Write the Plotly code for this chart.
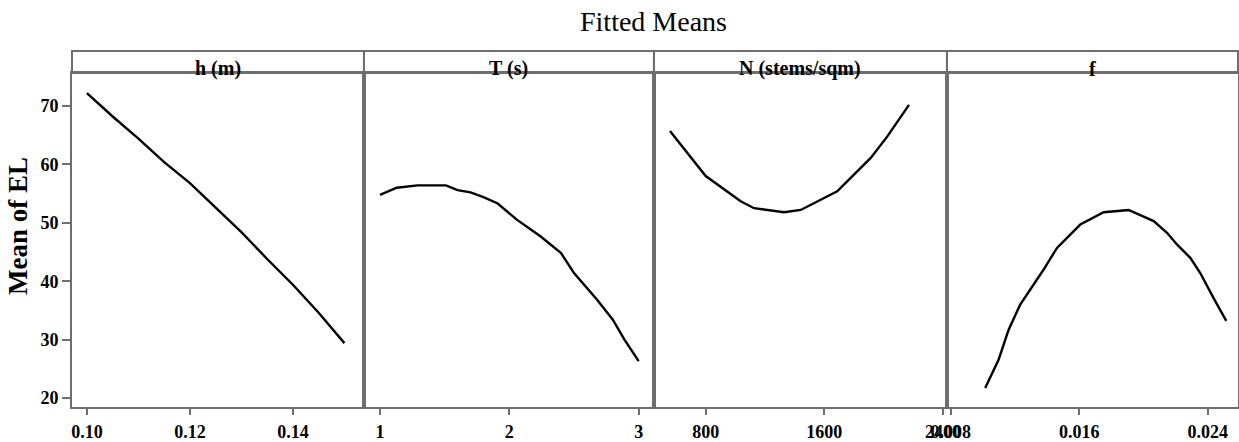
import plotly.graph_objects as go
from plotly.subplots import make_subplots

# ---- data ----
h_vals = [0.100, 0.105, 0.110, 0.115, 0.120, 0.125, 0.130, 0.135, 0.140, 0.145, 0.150]
h_mean = [72.2, 68.2, 64.4, 60.4, 56.8, 52.6, 48.4, 43.8, 39.4, 34.6, 29.4]

T_vals = [1.00, 1.13, 1.29, 1.51, 1.60, 1.70, 1.80, 1.91, 2.06, 2.24, 2.40, 2.50, 2.68, 2.80, 2.89, 3.00]
T_mean = [54.8, 56.0, 56.4, 56.4, 55.6, 55.2, 54.4, 53.3, 50.5, 47.7, 44.8, 41.4, 36.8, 33.4, 30.0, 26.3]

N_vals = [559, 800, 1036, 1126, 1328, 1441, 1687, 1913, 2025, 2171]
N_mean = [65.7, 58.0, 53.7, 52.5, 51.8, 52.2, 55.4, 61.1, 64.8, 70.2]

f_vals = [0.01015, 0.01099, 0.01161, 0.01233, 0.01379, 0.01462, 0.01607, 0.01753,
          0.01908, 0.02064, 0.02147, 0.02209, 0.02292, 0.02354, 0.02437, 0.02516]
f_mean = [21.7, 26.6, 31.7, 36.0, 42.0, 45.7, 49.7, 51.8,
          52.2, 50.3, 48.3, 46.3, 44.0, 41.4, 37.1, 33.2]

panel_titles = ["h (m)", "T (s)", "N (stems/sqm)", "f"]
x_tickvals = [[0.10, 0.12, 0.14], [1, 2, 3], [800, 1600, 2400], [0.008, 0.016, 0.024]]
x_ticktext = [["0.10", "0.12", "0.14"], ["1", "2", "3"], ["800", "1600", "2400"],
              ["0.008", "0.016", "0.024"]]
x_ranges = [[0.0971, 0.1538], [0.876, 3.118], [451, 2427], [0.00777, 0.02589]]
y_tickvals = [20, 30, 40, 50, 60, 70]

series = [(h_vals, h_mean), (T_vals, T_mean), (N_vals, N_mean), (f_vals, f_mean)]

W, H = 1239, 442
ML, MR, MT, MB = 72, 1, 73, 35
plot_h = H - MT - MB
strip_h = 22
domains = [[0, 0.2504], [0.2504, 0.4991], [0.4991, 0.7504], [0.7504, 1.0]]

AX = "#6e6e6e"
SERIF = "Liberation Serif"

fig = make_subplots(rows=1, cols=4, shared_yaxes=True, horizontal_spacing=0)
for i, (xs, ys) in enumerate(series):
    fig.add_trace(go.Scatter(x=xs, y=ys, mode="lines",
                             line=dict(color="black", width=2.4),
                             showlegend=False, hoverinfo="skip"),
                  row=1, col=i + 1)

for i in range(4):
    key = "xaxis" if i == 0 else f"xaxis{i+1}"
    fig.layout[key].update(
        domain=domains[i], range=x_ranges[i], tickvals=x_tickvals[i], ticktext=x_ticktext[i],
        showline=True, linecolor=AX, linewidth=2, mirror=True,
        ticks="outside", ticklen=6, tickwidth=2, tickcolor=AX,
        showgrid=False, zeroline=False, ticklabelstandoff=1, automargin=False,
        tickfont=dict(family=SERIF, size=18, color="black", weight="bold"))
    ykey = "yaxis" if i == 0 else f"yaxis{i+1}"
    fig.layout[ykey].update(
        range=[18.46, 75.65], showline=True, linecolor=AX, linewidth=2, mirror=True,
        showgrid=False, zeroline=False, automargin=False,
        ticks="outside" if i == 0 else "", ticklen=8, tickwidth=2, tickcolor=AX,
        tickvals=y_tickvals, showticklabels=(i == 0),
        tickfont=dict(family=SERIF, size=18, color="black", weight="bold"))

# strips
y_top = 1 + strip_h / plot_h
for i in range(4):
    fig.add_shape(type="rect", xref="paper", yref="paper",
                  x0=domains[i][0], x1=domains[i][1], y0=1, y1=y_top,
                  line=dict(color=AX, width=2), fillcolor="rgba(0,0,0,0)", layer="below")
    fig.add_annotation(x=(domains[i][0] + domains[i][1]) / 2, y=1 + 4 / plot_h,
                       xref="paper", yref="paper", text=panel_titles[i], showarrow=False,
                       xanchor="center", yanchor="middle",
                       font=dict(family=SERIF, size=20, color="black", weight="bold"))

# y-axis title
fig.add_annotation(x=-(ML - 18) / (W - ML - MR), y=(H - MB - 226) / plot_h,
                   xref="paper", yref="paper", text="Mean of EL", textangle=-90,
                   showarrow=False, xanchor="center", yanchor="middle",
                   font=dict(family=SERIF, size=27, color="black", weight="bold"))

# main title
fig.add_annotation(x=(653 - ML) / (W - ML - MR), y=(H - MB - 21) / plot_h,
                   xref="paper", yref="paper", text="Fitted Means", showarrow=False,
                   xanchor="center", yanchor="middle",
                   font=dict(family=SERIF, size=28, color="black"))

fig.update_layout(width=W, height=H, autosize=False, showlegend=False,
                  margin=dict(l=ML, r=MR, t=MT, b=MB, autoexpand=False),
                  paper_bgcolor="white", plot_bgcolor="white")

fig.write_html("out.html", config={"responsive": False})
